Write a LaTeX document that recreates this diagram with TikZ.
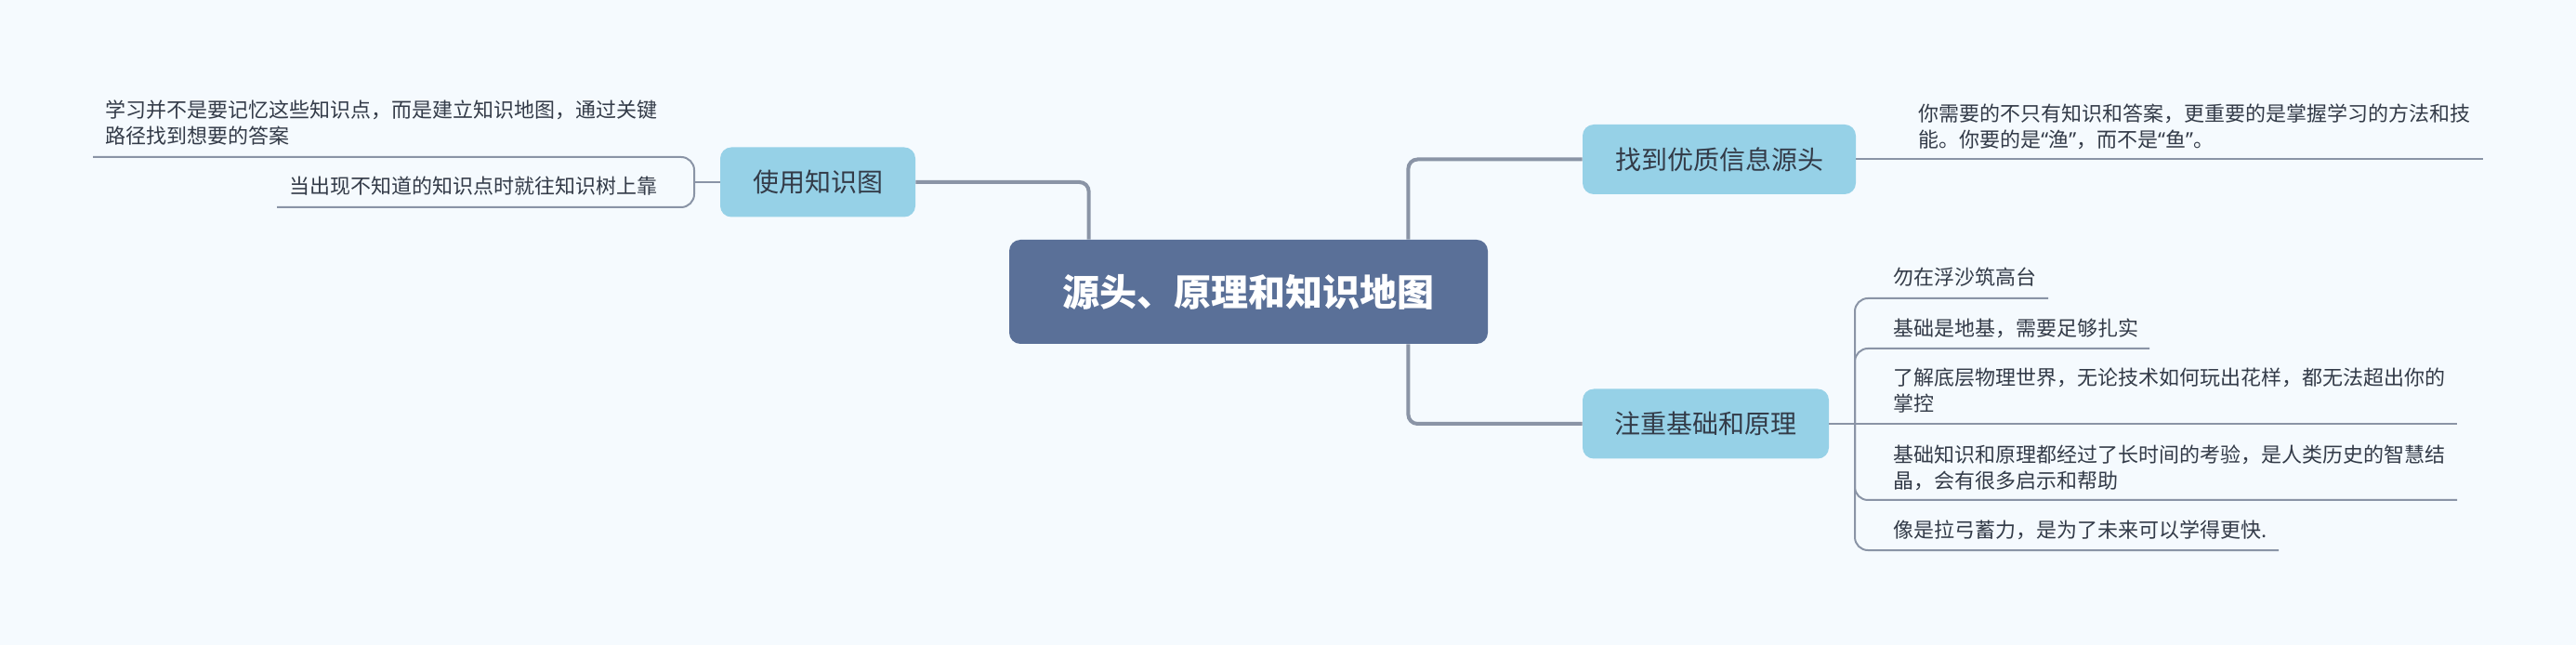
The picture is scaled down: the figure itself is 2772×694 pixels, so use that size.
\documentclass[tikz,border=0pt]{standalone}
\usepackage{fontspec}
\setmainfont{Noto Sans CJK SC}
\newfontfamily\latinq{Noto Sans}
\definecolor{bgcol}{HTML}{F5FAFE}
\definecolor{rootcol}{HTML}{5A7098}
\definecolor{topiccol}{HTML}{96D1E7}
\definecolor{linecol}{HTML}{8A94A6}
\definecolor{inkcol}{HTML}{333B48}

\begin{document}
\begin{tikzpicture}[x=0.5pt, y=-0.5pt,
  root/.style={fill=rootcol, rounded corners=6pt, text=white,
    font=\fontsize{20}{24}\selectfont\bfseries,
    minimum width=257.5pt, minimum height=56pt},
  topic/.style={fill=topiccol, rounded corners=6pt, text=inkcol,
    font=\fontsize{14}{17}\selectfont, minimum height=37.5pt},
  leaf/.style={text=inkcol, font=\fontsize{11}{14}\selectfont,
    align=left, inner sep=0pt},
  trunk/.style={draw=linecol, line width=2pt, rounded corners=5pt},
  twig/.style={draw=linecol, line width=1pt, rounded corners=7pt}]
  \fill[bgcol] (0,0) rectangle (2772,694);
  \useasboundingbox (0,0) rectangle (2772,694);

  \node[root] (C) at (1343.5,314) {源头、原理和知识地图};
  \node[topic, minimum width=105pt] (T1) at (880,196) {使用知识图};
  \node[topic, minimum width=147pt] (T2) at (1850,171.5) {找到优质信息源头};
  \node[topic, minimum width=132.5pt] (T3) at (1835.5,456) {注重基础和原理};
  \draw[trunk] ([xshift=43pt]C.north west) |- (T1.east);
  \draw[trunk] ([xshift=-43pt]C.north east) |- (T2.west);
  \draw[trunk] ([xshift=-43pt]C.south east) |- (T3.west);

  % left branch
  \node[leaf, anchor=east] (L11) at (708,132.5) {学习并不是要记忆这些知识点，而是建立知识地图，通过关键\\路径找到想要的答案};
  \node[leaf, anchor=east] (L12) at (708,200) {当出现不知道的知识点时就往知识树上靠};
  \coordinate (B1) at (747,196);
  \coordinate (U11) at (100,169);
  \coordinate (U12) at (298,223);
  \draw[twig] (T1.west) -- (B1);
  \draw[twig] (B1) |- (U11);
  \draw[twig] (B1) |- (U12);

  % right top branch
  \node[leaf, anchor=west] (L21) at (2064,136.5) {你需要的不只有知识和答案，更重要的是掌握学习的方法和技\\能。你要的是{\latinq “}渔{\latinq ”}，而不是{\latinq “}鱼{\latinq ”}。};
  \coordinate (U21) at (2672,171.5);
  \draw[twig] (T2.east) -- (U21);

  % right bottom branch
  \node[leaf, anchor=west] (L31) at (2037,298) {勿在浮沙筑高台};
  \node[leaf, anchor=west] (L32) at (2037,353) {基础是地基，需要足够扎实};
  \node[leaf, anchor=west] (L33) at (2037,420.5) {了解底层物理世界，无论技术如何玩出花样，都无法超出你的\\掌控};
  \node[leaf, anchor=west] (L34) at (2037,503) {基础知识和原理都经过了长时间的考验，是人类历史的智慧结\\晶，会有很多启示和帮助};
  \node[leaf, anchor=west] (L35) at (2037,570) {像是拉弓蓄力，是为了未来可以学得更快.};
  \coordinate (B3) at (1996,456);
  \coordinate (U31) at (2204,321);
  \coordinate (U32) at (2313,375);
  \coordinate (U33) at (2644,456);
  \coordinate (U34) at (2644,538);
  \coordinate (U35) at (2452,592);
  \draw[twig] (T3.east) -- (B3);
  \draw[twig] (B3) |- (U31);
  \draw[twig] (B3) |- (U32);
  \draw[twig] (B3) -- (U33);
  \draw[twig] (B3) |- (U34);
  \draw[twig] (B3) |- (U35);
\end{tikzpicture}
\end{document}
